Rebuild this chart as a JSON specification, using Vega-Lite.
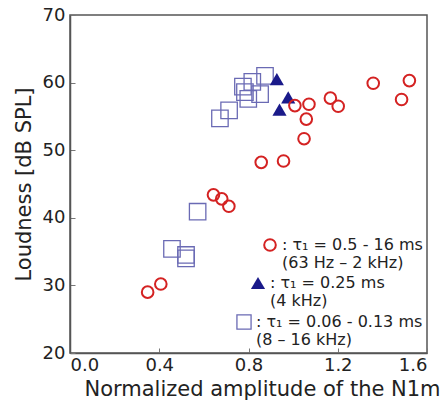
{
  "$schema": "https://vega.github.io/schema/vega-lite/v6.json",
  "width": 357,
  "height": 338,
  "autosize": {"type": "none"},
  "padding": {"left": 70, "top": 15, "right": 17, "bottom": 56},
  "config": {
    "font": "DejaVu Sans",
    "view": {"stroke": "#555", "strokeWidth": 1.5},
    "axis": {
      "grid": false,
      "domainColor": "#555",
      "domainWidth": 1.5,
      "tickColor": "#777",
      "tickSize": -5,
      "labelFont": "DejaVu Sans",
      "labelFontSize": 18,
      "labelColor": "#222",
      "titleFont": "DejaVu Sans",
      "titleFontSize": 21,
      "titleFontWeight": "normal",
      "titleColor": "#222"
    },
    "legend": {
      "orient": "none",
      "padding": 0,
      "labelFont": "DejaVu Sans",
      "labelFontSize": 16,
      "labelColor": "#222",
      "labelLimit": 400
    }
  },
  "data": {
    "values": [
      {"group": "A", "amp": 0.348, "loud": 29.0},
      {"group": "A", "amp": 0.407, "loud": 30.2},
      {"group": "A", "amp": 0.643, "loud": 43.4},
      {"group": "A", "amp": 0.680, "loud": 42.8},
      {"group": "A", "amp": 0.712, "loud": 41.7},
      {"group": "A", "amp": 0.857, "loud": 48.2},
      {"group": "A", "amp": 0.957, "loud": 48.4},
      {"group": "A", "amp": 1.008, "loud": 56.6},
      {"group": "A", "amp": 1.071, "loud": 56.8},
      {"group": "A", "amp": 1.059, "loud": 54.6},
      {"group": "A", "amp": 1.049, "loud": 51.7},
      {"group": "A", "amp": 1.167, "loud": 57.7},
      {"group": "A", "amp": 1.202, "loud": 56.5},
      {"group": "A", "amp": 1.359, "loud": 59.9},
      {"group": "A", "amp": 1.521, "loud": 60.3},
      {"group": "A", "amp": 1.486, "loud": 57.5},
      {"group": "B", "amp": 0.927, "loud": 60.5},
      {"group": "B", "amp": 0.978, "loud": 57.8},
      {"group": "B", "amp": 0.939, "loud": 56.0},
      {"group": "C", "amp": 0.672, "loud": 54.7},
      {"group": "C", "amp": 0.713, "loud": 55.9},
      {"group": "C", "amp": 0.784, "loud": 58.6},
      {"group": "C", "amp": 0.799, "loud": 57.6},
      {"group": "C", "amp": 0.817, "loud": 60.1},
      {"group": "C", "amp": 0.775, "loud": 59.4},
      {"group": "C", "amp": 0.852, "loud": 58.3},
      {"group": "C", "amp": 0.874, "loud": 61.0},
      {"group": "C", "amp": 0.572, "loud": 40.9},
      {"group": "C", "amp": 0.457, "loud": 35.4},
      {"group": "C", "amp": 0.520, "loud": 34.5},
      {"group": "C", "amp": 0.520, "loud": 34.0}
    ]
  },
  "encoding": {
    "x": {
      "field": "amp", "type": "quantitative",
      "scale": {"domain": [0, 1.6], "nice": false, "zero": false},
      "axis": {"values": [0, 0.4, 0.8, 1.2, 1.6], "format": ".1f", "title": "Normalized amplitude of the N1m", "labelPadding": 8, "titlePadding": 4, "titleX": 192}
    },
    "y": {
      "field": "loud", "type": "quantitative",
      "scale": {"domain": [20, 70], "nice": false, "zero": false},
      "axis": {"values": [20, 30, 40, 50, 60, 70], "title": "Loudness [dB SPL]", "labelPadding": 10, "titlePadding": 8}
    }
  },
  "layer": [
    {
      "transform": [{"filter": "datum.group === 'C'"}],
      "mark": {"type": "point", "shape": "square", "filled": false, "strokeWidth": 1.3, "size": 270, "opacity": 1},
      "encoding": {
        "color": {
          "field": "group", "type": "nominal",
          "scale": {"domain": ["C"], "range": ["#6a6ab4"]},
          "legend": {"title": null, "legendX": 166, "legendY": 299, "symbolSize": 200, "symbolStrokeWidth": 1.3,
            "labelExpr": "[': τ₁ = 0.06 - 0.13 ms', '(8 – 16 kHz)']"}
        }
      }
    },
    {
      "transform": [{"filter": "datum.group === 'B'"}],
      "mark": {"type": "point", "shape": "triangle-up", "filled": true, "size": 200, "opacity": 1},
      "encoding": {
        "color": {
          "field": "group", "type": "nominal",
          "scale": {"domain": ["B"], "range": ["#1a1a8a"]},
          "legend": {"title": null, "legendX": 180, "legendY": 260, "symbolSize": 200,
            "labelExpr": "[': τ₁ = 0.25 ms', '(4 kHz)']"}
        }
      }
    },
    {
      "transform": [{"filter": "datum.group === 'A'"}],
      "mark": {"type": "point", "shape": "circle", "filled": false, "strokeWidth": 2, "size": 135, "opacity": 1},
      "encoding": {
        "color": {
          "field": "group", "type": "nominal",
          "scale": {"domain": ["A"], "range": ["#d42222"]},
          "legend": {"title": null, "legendX": 192, "legendY": 222, "symbolSize": 135, "symbolStrokeWidth": 2,
            "labelExpr": "[': τ₁ = 0.5 - 16 ms', '(63 Hz – 2 kHz)']"}
        }
      }
    }
  ],
  "resolve": {"scale": {"color": "independent"}, "legend": {"color": "independent"}}
}
